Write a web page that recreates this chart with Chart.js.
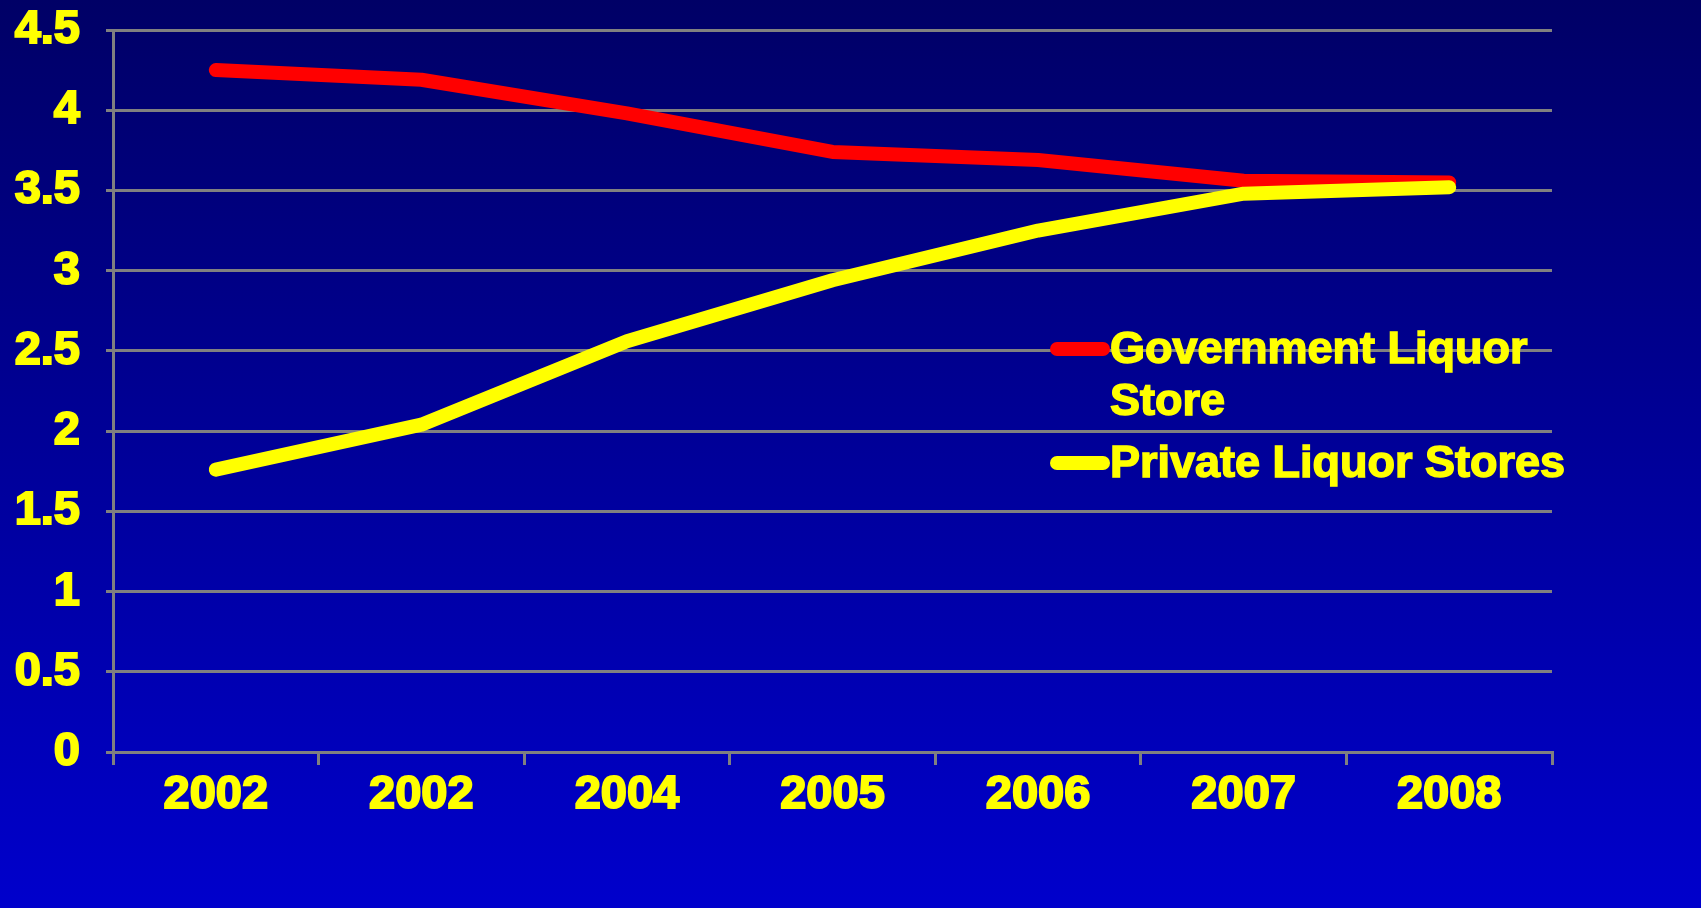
<!DOCTYPE html>
<html>
<head>
<meta charset="utf-8">
<script src="https://cdn.jsdelivr.net/npm/chart.js@4"></script>
<style>
  html, body { margin: 0; padding: 0; }
  body {
    width: 1701px; height: 908px; overflow: hidden;
    background: linear-gradient(#000066, #0000cc);
    font-family: "Liberation Sans", Arial, sans-serif;
  }
  #wrap { position: relative; width: 1701px; height: 908px; }
  #legend { position: absolute; left: 1050px; top: 322px; color: #ffff00; font-weight: bold; font-size: 45px; line-height: 52px; -webkit-text-stroke: 1.5px #ffff00; }
  .item { position: relative; padding-left: 60px; }
  .swatch { position: absolute; left: 0; top: 20px; width: 60px; height: 14px; border-radius: 7px; }
</style>
</head>
<body>
<div id="wrap">
  <canvas id="chart" width="1701" height="908"></canvas>
  <div id="legend">
    <div class="item"><span class="swatch" style="background:#ff0000"></span>Government Liquor<br>Store</div>
    <div class="item" style="margin-top:10px"><span class="swatch" style="background:#ffff00"></span>Private Liquor Stores</div>
  </div>
</div>
<script>
// data
const years = ['2002', '2002', '2004', '2005', '2006', '2007', '2008'];
const government = [4.25, 4.19, 3.98, 3.74, 3.69, 3.56, 3.55];
const privateStores = [1.76, 2.04, 2.56, 2.94, 3.25, 3.48, 3.52];

const yellow = '#ffff00';
const grey = '#808080';
const font = { family: '"Liberation Sans", Arial, sans-serif', size: 47, weight: 'bold' };

new Chart(document.getElementById('chart').getContext('2d'), {
  type: 'line',
  data: {
    labels: years,
    datasets: [{
      label: 'Government Liquor Store',
      data: government,
      borderColor: '#ff0000',
      borderWidth: 14,
      order: 1
    }, {
      label: 'Private Liquor Stores',
      data: privateStores,
      borderColor: yellow,
      borderWidth: 14,
      order: 0
    }]
  },
  options: {
    responsive: false,
    animation: false,
    layout: { padding: { top: 30, right: 149, left: 0, bottom: 0 } },
    elements: {
      point: { radius: 0 },
      line: { tension: 0, borderCapStyle: 'round', borderJoinStyle: 'round' }
    },
    scales: {
      x: {
        offset: true,
        grid: { display: true, drawOnChartArea: false, color: grey, lineWidth: 3, tickLength: 13, offset: true },
        border: { color: grey, width: 3 },
        ticks: { color: yellow, font: font, padding: 2, maxRotation: 0, textStrokeColor: yellow, textStrokeWidth: 2 },
        afterFit: s => { s.height = 156; s.paddingLeft = 0; s.paddingRight = 0; }
      },
      y: {
        min: 0,
        max: 4.5,
        ticks: {
          stepSize: 0.5, color: yellow, font: font, padding: 26,
          textStrokeColor: yellow, textStrokeWidth: 2,
          callback: v => String(v)
        },
        grid: { color: grey, lineWidth: 3, tickLength: 7 },
        border: { color: grey, width: 3 },
        afterFit: s => { s.width = 113; s.paddingTop = 0; s.paddingBottom = 0; }
      }
    },
    plugins: {
      legend: { display: false },
      tooltip: { enabled: false }
    }
  }
});
</script>
</body>
</html>
